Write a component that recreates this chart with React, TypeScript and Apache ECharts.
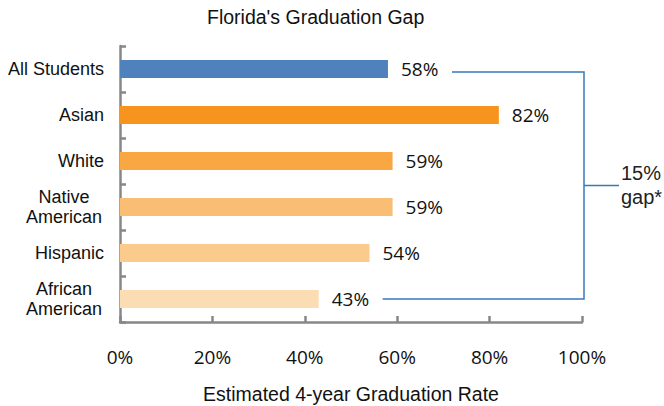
import React, { useEffect, useRef } from "react";
import * as echarts from "echarts";

const categories = ["All Students", "Asian", "White", "Native\nAmerican", "Hispanic", "African\nAmerican"];
const values = [58, 82, 59, 59, 54, 43];
const barColors = ["#4f81bd", "#f7941d", "#f9a743", "#f9be74", "#fbca8d", "#fcdcb3"];
const xTicks = [0, 20, 40, 60, 80, 100];
const titleText = "Florida's Graduation Gap";
const axisName = "Estimated 4-year Graduation Rate";
const gapLabel = ["15%", "gap*"];

export default function App() {
  const ref = useRef<HTMLDivElement>(null);
  useEffect(() => {
    if (!ref.current) return;
    const chart = echarts.init(ref.current, undefined, { renderer: "svg" });
    const axisColor = "#878787";
    chart.setOption({
      animation: false,
      title: {
        text: titleText,
        left: 207,
        top: 7,
        padding: 0,
        textStyle: { fontFamily: "Liberation Sans", fontSize: 19.5, fontWeight: "normal", color: "#111" },
      },
      grid: { left: 120, right: 82, top: 46, bottom: 84, containLabel: false, outerBoundsMode: "none" },
      xAxis: {
        type: "value",
        min: xTicks[0],
        max: xTicks[xTicks.length - 1],
        interval: 20,
        axisLine: { show: true, lineStyle: { color: axisColor, width: 2.5 } },
        axisTick: { show: true, inside: true, length: 6, lineStyle: { color: axisColor, width: 2.5 } },
        splitLine: { show: false },
        axisLabel: {
          formatter: "{value}%",
          margin: 25,
          fontFamily: "Open Sans",
          fontSize: 19,
          color: "#111",
        },
        name: axisName,
        nameLocation: "middle",
        nameGap: 62,
        nameTextStyle: { fontFamily: "Liberation Sans", fontSize: 19.5, color: "#111" },
      },
      yAxis: {
        type: "category",
        inverse: true,
        data: categories,
        axisLine: { show: true, lineStyle: { color: axisColor, width: 2.5 } },
        axisTick: { show: true, inside: true, length: 6, lineStyle: { color: axisColor, width: 2.5 } },
        axisLabel: {
          margin: 16,
          fontFamily: "Liberation Sans",
          fontSize: 18,
          color: "#111",
          formatter: (v: string) => (v.indexOf("\n") >= 0 ? `{c|${v}}` : v),
          rich: {
            c: { width: 80, align: "center", fontFamily: "Liberation Sans", fontSize: 18, lineHeight: 20, color: "#111" },
          },
        },
      },
      series: [
        {
          type: "bar",
          barWidth: 18,
          data: values.map((v, i) => ({ value: v, itemStyle: { color: barColors[i] } })),
          label: {
            show: true,
            position: "right",
            distance: 13,
            formatter: "{c}%",
            fontFamily: "Open Sans",
            fontSize: 19,
            color: "#111",
          },
        },
      ],
    });

    const px = (v: number, c: number) => chart.convertToPixel({ gridIndex: 0 }, [v, c]) as number[];
    const last = values.length - 1;
    const right = px(xTicks[xTicks.length - 1], 0)[0] + 2;
    const top = px(values[0], 0);
    const bot = px(values[last], last);
    const yTop = top[1] + 3;
    const yBot = bot[1];
    const yMid = (yTop + yBot) / 2;
    const lineColor = "#3479bd";
    chart.setOption({
      graphic: [
        { type: "polyline", shape: { points: [[top[0] + 64, yTop], [right, yTop], [right, yBot], [bot[0] + 64, yBot]] }, style: { stroke: lineColor, lineWidth: 1.5, fill: null } },
        { type: "line", shape: { x1: right, y1: yMid, x2: right + 35, y2: yMid }, style: { stroke: lineColor, lineWidth: 1.5 } },
        {
          type: "text",
          x: right + 37,
          y: yMid - 25,
          style: { text: gapLabel.join("\n"), fontFamily: "Liberation Sans", fontSize: 20, lineHeight: 24, fill: "#222", align: "left" },
        },
      ],
    });
    return () => chart.dispose();
  }, []);
  return <div ref={ref} style={{ width: 664, height: 406, position: "absolute", left: 0, top: 0 }} />;
}
